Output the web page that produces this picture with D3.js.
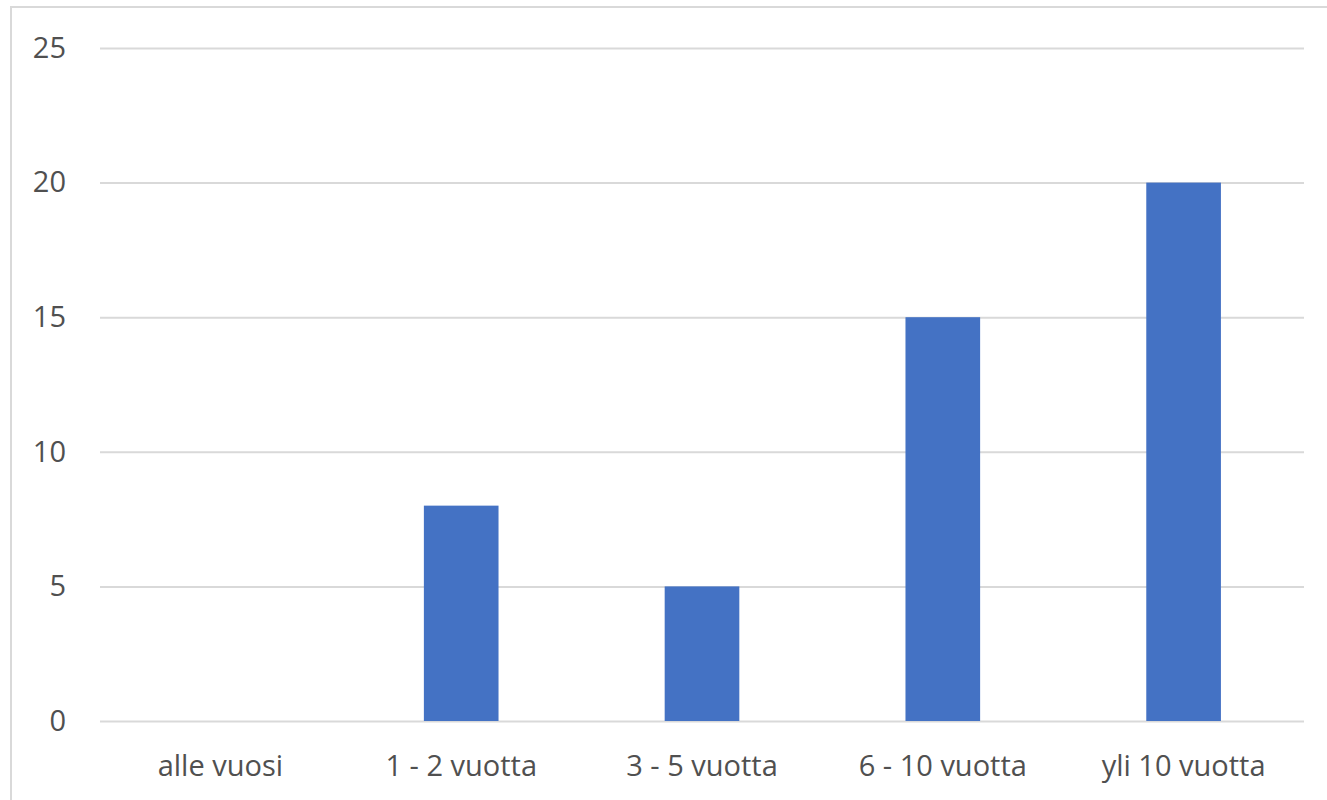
<!DOCTYPE html>
<html><head><meta charset="utf-8">
<script src="https://cdn.jsdelivr.net/npm/d3@7/dist/d3.min.js"></script>
<style>body{margin:0;background:#fff;}svg{display:block;}</style>
</head><body>
<svg id="c" width="1327" height="800"></svg>
<script>
const categories = ["alle vuosi", "1 - 2 vuotta", "3 - 5 vuotta", "6 - 10 vuotta", "yli 10 vuotta"];
const values = [0, 8, 5, 15, 20];
const yTicks = [0, 5, 10, 15, 20, 25];

const svg = d3.select("#c");
const W = 1327, H = 800;
const m = {left: 100, right: 23, top: 48, bottom: 79};

svg.append("rect").attr("x", 11).attr("y", 7).attr("width", W + 20).attr("height", H + 20)
  .attr("fill", "#fff").attr("stroke", "#d9d9d9").attr("stroke-width", 2);

const x = d3.scaleBand().domain(categories).range([m.left, W - m.right]).paddingInner(0.69).paddingOuter(0.345);
const y = d3.scaleLinear().domain([0, 25]).range([H - m.bottom, m.top]);

const font = "'Open Sans', sans-serif";

const yAxis = d3.axisLeft(y).tickValues(yTicks).tickSize(-(W - m.left - m.right)).tickPadding(34);
const gy = svg.append("g").attr("transform", `translate(${m.left},0)`).call(yAxis);
gy.select(".domain").remove();
gy.selectAll(".tick line").attr("stroke", "#d9d9d9").attr("stroke-width", 2);
gy.selectAll(".tick text").attr("fill", "#505050").style("font-family", font).style("font-size", "29px");

svg.append("g").selectAll("rect").data(values).join("rect")
  .attr("x", (d, i) => x(categories[i]))
  .attr("width", x.bandwidth())
  .attr("y", d => y(d))
  .attr("height", d => y(0) - y(d))
  .attr("fill", "#4472c4");

const x0 = d3.scaleBand().domain(categories).range([m.left, W - m.right]);
const gx = svg.append("g").attr("transform", `translate(0,${H - m.bottom})`).call(d3.axisBottom(x0).tickSize(0).tickPadding(34));
gx.select(".domain").remove();
gx.selectAll(".tick text").attr("fill", "#505050").style("font-family", font).style("font-size", "29px");
</script>
</body></html>
